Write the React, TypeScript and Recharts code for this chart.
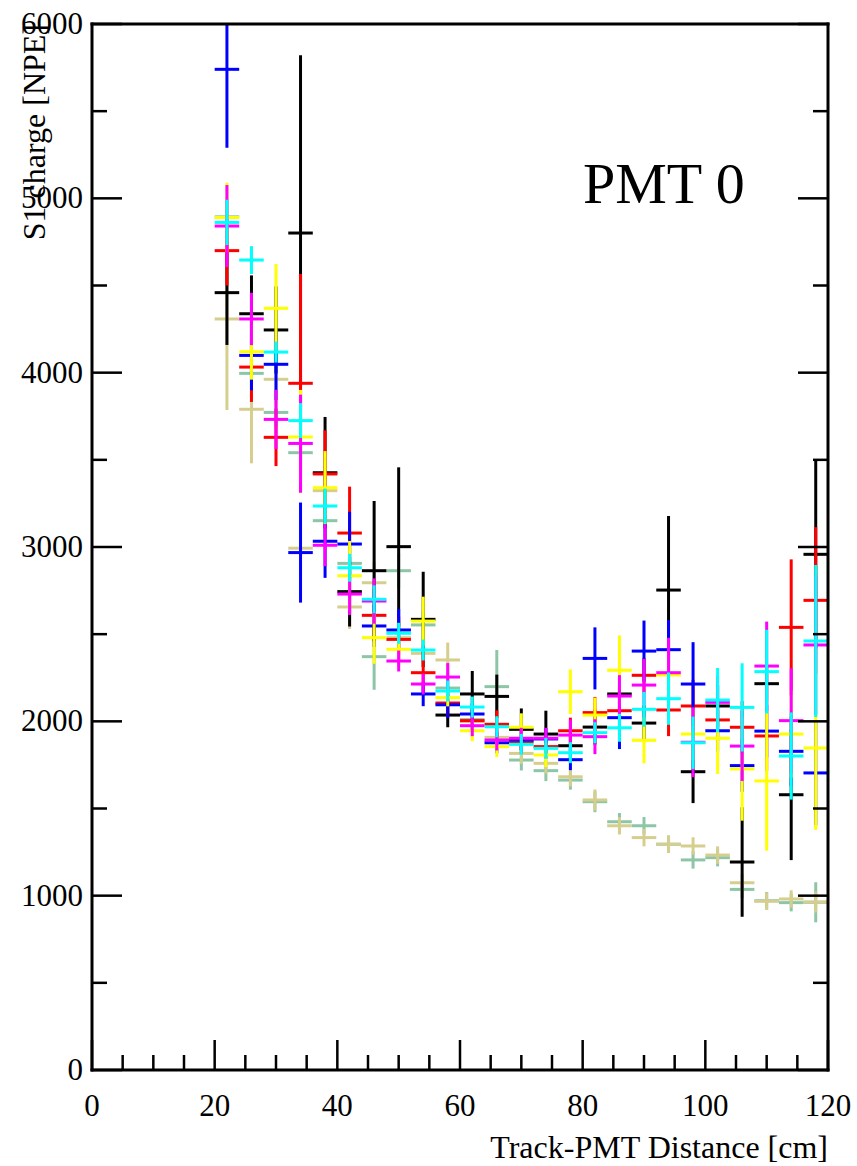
import { ScatterChart, Scatter, XAxis, YAxis, ErrorBar } from "recharts"

// bin centres along the track (4 cm wide bins)
const distance = [22, 26, 30, 34, 38, 42, 46, 50, 54, 58, 62, 66, 70, 74, 78, 82, 86, 90, 94, 98, 102, 106, 110, 114, 118]
const binHalfWidth = 2

const greenQ = [4894, 3996, 3772, 3541, 3151, 2906, 2371, 2864, 2553, 2191, 2010, 2199, 1778, 1717, 1663, 1539, 1424, 1401, 1295, 1205, 1218, 1036, 971, 960, 962]
const greenErr = [100, 100, 80, 100, 100, 80, 190, 100, 80, 60, 60, 210, 60, 60, 55, 60, 50, 50, 50, 50, 50, 50, 50, 50, 115]

const tanQ = [4308, 3790, 3962, 2993, 3323, 2656, 2795, 2480, 2390, 2352, 2000, 1908, 1816, 1759, 1682, 1549, 1401, 1333, 1295, 1285, 1233, 1074, 968, 981, 964]
const tanErr = [522, 310, 150, 150, 120, 126, 120, 100, 80, 100, 60, 60, 60, 60, 55, 60, 50, 50, 50, 50, 50, 50, 50, 50, 60]

const blackQ = [4459, 4338, 4245, 4801, 3426, 2744, 2864, 3002, 2585, 2036, 2157, 2143, 1954, 1927, 1860, 1967, 2157, 1990, 2753, 1711, 2088, 1193, 2216, 1579, 2958]
const blackErr = [300, 220, 250, 1020, 320, 200, 400, 455, 273, 70, 132, 125, 120, 134, 80, 100, 100, 100, 425, 180, 120, 314, 100, 375, 540]

const redQ = [4700, 4032, 3629, 3939, 3419, 3080, 2608, 2470, 2279, 2105, 2004, 1983, 1883, 1855, 1946, 2050, 2061, 2264, 2065, 2088, 2008, 1966, 1916, 2539, 2694]
const redErr = [200, 200, 165, 627, 250, 266, 150, 130, 120, 80, 60, 80, 70, 70, 75, 90, 100, 100, 150, 150, 120, 150, 200, 390, 420]

const blueQ = [5740, 4099, 4048, 2968, 3033, 3017, 2547, 2524, 2157, 2095, 2042, 1877, 1893, 1899, 1780, 2361, 2021, 2403, 2411, 2214, 1946, 1746, 1944, 1828, 1704]
const blueErr = [450, 200, 205, 287, 210, 185, 120, 120, 70, 75, 60, 60, 60, 60, 60, 178, 180, 175, 170, 240, 120, 150, 150, 200, 300]

const yellowQ = [4890, 4120, 4369, 3631, 3340, 2835, 2480, 2413, 2575, 2136, 1946, 1855, 1966, 1807, 2170, 2036, 2293, 1891, 2266, 1927, 1903, 1727, 1658, 1927, 1847]
const yellowErr = [200, 160, 254, 270, 210, 200, 150, 100, 140, 50, 60, 60, 80, 70, 128, 100, 200, 132, 150, 150, 205, 297, 400, 250, 470]

const magentaQ = [4841, 4308, 3732, 3594, 3010, 2730, 2690, 2346, 2214, 2254, 1975, 1893, 1903, 1903, 1921, 1912, 2145, 2208, 2279, 1880, 2109, 1858, 2317, 2004, 2438]
const magentaErr = [235, 150, 170, 280, 120, 120, 130, 60, 60, 80, 60, 60, 60, 60, 90, 100, 120, 150, 200, 200, 150, 200, 255, 300, 400]

const cyanQ = [4862, 4646, 4118, 3725, 3235, 2881, 2700, 2505, 2409, 2174, 2082, 1969, 1868, 1845, 1820, 1935, 1963, 2069, 2130, 1877, 2122, 2080, 2285, 1801, 2461]
const cyanErr = [130, 80, 60, 100, 100, 80, 80, 60, 60, 60, 60, 60, 60, 60, 60, 60, 80, 100, 150, 150, 184, 253, 240, 250, 436]

const xTicks = [0, 5, 10, 15, 20, 25, 30, 35, 40, 45, 50, 55, 60, 65, 70, 75, 80, 85, 90, 95, 100, 105, 110, 115, 120]
const yTicks = [0, 500, 1000, 1500, 2000, 2500, 3000, 3500, 4000, 4500, 5000, 5500, 6000]

const FONT = "'Liberation Serif', 'DejaVu Serif', serif"

const W = 857
const H = 1166
const margin = { top: 23, right: 28, bottom: 46, left: 32 }
const xAxisHeight = 50
const yAxisWidth = 60
// plot frame in svg pixels, used to clip error bars that run off the top
const plot = {
  x: margin.left + yAxisWidth,
  y: margin.top + 1,
  w: W - margin.left - yAxisWidth - margin.right - 1,
  h: H - margin.top - 1 - margin.bottom - xAxisHeight,
}

const toPoints = (q: number[], err: number[]) =>
  distance.map((x, i) => ({ x, y: q[i], ey: err[i], ex: binHalfWidth }))

// drawn in this order, later ones on top
const series = [
  { name: "green", color: "#8cc6a6", q: greenQ, err: greenErr },
  { name: "tan", color: "#d6ce8e", q: tanQ, err: tanErr },
  { name: "black", color: "#000000", q: blackQ, err: blackErr },
  { name: "red", color: "#ff0000", q: redQ, err: redErr },
  { name: "blue", color: "#0000ff", q: blueQ, err: blueErr },
  { name: "yellow", color: "#ffff00", q: yellowQ, err: yellowErr },
  { name: "magenta", color: "#ff00ff", q: magentaQ, err: magentaErr },
  { name: "cyan", color: "#00ffff", q: cyanQ, err: cyanErr },
]

const frame = { stroke: "#000", strokeWidth: 3, strokeLinecap: "square" as const }

// ticks point into the frame, ROOT style
const BottomTick = ({ x, y, payload }: any) => {
  const major = payload.value % 20 === 0
  return (
    <g>
      <line x1={x} y1={y} x2={x} y2={y - (major ? 30 : 15)} stroke="#000" strokeWidth={2.5} />
      {major && (
        <text x={x} y={y + 46} textAnchor="middle" fontSize={31} fontFamily={FONT} fill="#000">
          {payload.value}
        </text>
      )}
    </g>
  )
}

const TopTick = ({ x, y, payload }: any) => {
  const major = payload.value % 20 === 0
  return <line x1={x} y1={y} x2={x} y2={y + (major ? 30 : 15)} stroke="#000" strokeWidth={2.5} />
}

const LeftTick = ({ x, y, payload }: any) => {
  const major = payload.value % 1000 === 0
  return (
    <g>
      <line x1={x} y1={y} x2={x + (major ? 30 : 15)} y2={y} stroke="#000" strokeWidth={2.5} />
      {major && (
        <text x={x - 9} y={y + 10} textAnchor="end" fontSize={31} fontFamily={FONT} fill="#000">
          {payload.value}
        </text>
      )}
    </g>
  )
}

const RightTick = ({ x, y, payload }: any) => {
  const major = payload.value % 1000 === 0
  return <line x1={x} y1={y} x2={x - (major ? 30 : 15)} y2={y} stroke="#000" strokeWidth={2.5} />
}

const noMarker = () => <g />

export default function App() {
  return (
    <div style={{ position: "absolute", left: 0, top: 0, width: W, height: H, background: "#fff" }}>
      <style>{`.recharts-scatter, .recharts-errorBars, .recharts-errorBar { clip-path: url(#plotFrame); }`}</style>
      <ScatterChart width={W} height={H} margin={margin}>
        <defs>
          <clipPath id="plotFrame" clipPathUnits="userSpaceOnUse">
            <rect x={plot.x} y={plot.y} width={plot.w} height={plot.h} />
          </clipPath>
        </defs>
        <XAxis
          type="number"
          dataKey="x"
          domain={[0, 120]}
          ticks={xTicks}
          interval={0}
          allowDataOverflow
          height={xAxisHeight}
          tickSize={0}
          tickMargin={0}
          tickLine={false}
          axisLine={frame}
          tick={<BottomTick />}
        />
        <XAxis
          xAxisId="top"
          orientation="top"
          type="number"
          domain={[0, 120]}
          ticks={xTicks}
          interval={0}
          allowDataOverflow
          height={1}
          tickSize={0}
          tickMargin={0}
          tickLine={false}
          axisLine={frame}
          tick={<TopTick />}
        />
        <YAxis
          type="number"
          dataKey="y"
          domain={[0, 6000]}
          ticks={yTicks}
          interval={0}
          allowDataOverflow
          width={yAxisWidth}
          tickSize={0}
          tickMargin={0}
          tickLine={false}
          axisLine={frame}
          tick={<LeftTick />}
        />
        <YAxis
          yAxisId="right"
          orientation="right"
          type="number"
          domain={[0, 6000]}
          ticks={yTicks}
          interval={0}
          allowDataOverflow
          width={1}
          tickSize={0}
          tickMargin={0}
          tickLine={false}
          axisLine={frame}
          tick={<RightTick />}
        />

        {series.map((s) => (
          <Scatter key={s.name} name={s.name} data={toPoints(s.q, s.err)} shape={noMarker} isAnimationActive={false}>
            <ErrorBar dataKey="ey" direction="y" width={0} stroke={s.color} strokeWidth={3} isAnimationActive={false} />
            <ErrorBar dataKey="ex" direction="x" width={0} stroke={s.color} strokeWidth={3} isAnimationActive={false} />
          </Scatter>
        ))}

        <text x={583} y={203} fontSize={58} fontFamily={FONT} fill="#000">
          PMT 0
        </text>
        <text x={828} y={1158} textAnchor="end" fontSize={32} fontFamily={FONT} fill="#000">
          Track-PMT Distance [cm]
        </text>
        <text x={45} y={24} textAnchor="end" transform="rotate(-90, 45, 24)" fontSize={32} fontFamily={FONT} fill="#000">
          S1 charge [NPE]
        </text>
      </ScatterChart>
    </div>
  )
}
